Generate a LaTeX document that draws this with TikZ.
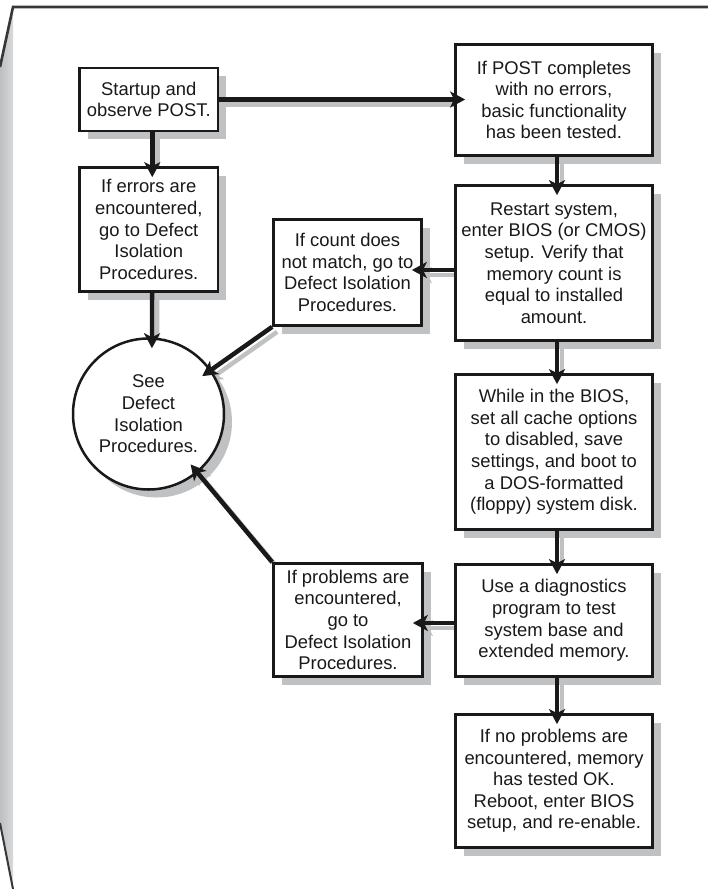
\documentclass[tikz,border=0pt]{standalone}
\usepackage{fontspec}
\setmainfont{Liberation Sans}
\usetikzlibrary{arrows.meta,shadows}

\definecolor{shadowgray}{RGB}{192,193,195}
\definecolor{ink}{RGB}{25,25,25}
\definecolor{framegray}{RGB}{55,55,55}
\definecolor{banddark}{RGB}{190,191,193}
\definecolor{bandlight}{RGB}{216,217,219}

\pgfdeclarelayer{bg}
\pgfsetlayers{bg,main}

\newcommand\myconn[1]{%
  \begin{pgfonlayer}{bg}\draw[connshadow] #1;\end{pgfonlayer}%
  \draw[conn] #1;}

\begin{document}
\begin{tikzpicture}[x=1pt,y=-1pt,
  box/.style={draw=ink, line width=2.7pt, fill=white, inner sep=0pt,
    align=center, text=ink, font=\fontsize{18.4}{21.6}\selectfont,
    general shadow={fill=shadowgray, shadow xshift=8pt, shadow yshift=-8pt}},
  circ/.style={box, circle, line width=2.5pt, minimum size=151pt},
  conn/.style={draw=ink, line width=4.5pt,
    -{Stealth[length=15pt,width=16pt,inset=4pt]}, shorten >=-11pt},
  connshadow/.style={conn, draw=shadowgray,
    transform canvas={shift={(5pt,-5pt)}}}
]
\useasboundingbox (0,0) rectangle (708,889);

% page edge
\shade[left color=banddark, right color=bandlight]
  (13,7) -- (13,889) -- (0,823) -- (0,67) -- cycle;
\draw[framegray, line width=2.6pt] (708,7) -- (13,7) -- (0,67);
\draw[framegray, line width=2pt] (0,823) -- (13,889);

% nodes
\node[box, minimum width=138.5pt, minimum height=63pt] (A) at (148.75,99.5)
  {Startup and\\observe POST.};
\node[box, minimum width=197pt, minimum height=111pt] (B) at (554,100)
  {If POST completes\\with no errors,\\basic functionality\\has been tested.};
\node[box, minimum width=138.5pt, minimum height=124pt] (C) at (148.75,229.5)
  {If errors are\\encountered,\\go to Defect\\Isolation\\Procedures.};
\node[circ] (S) at (148.5,414)
  {See\\Defect\\Isolation\\Procedures.};
\node[box, minimum width=148pt, minimum height=106pt] (D) at (347.5,272.5)
  {If count does\\not match, go to\\Defect Isolation\\Procedures.};
\node[box, minimum width=197pt, minimum height=155pt] (E) at (554,263)
  {Restart system,\\enter BIOS (or CMOS)\\setup. Verify that\\memory count is\\equal to installed\\amount.};
\node[box, minimum width=197pt, minimum height=155pt] (F) at (554,452)
  {While in the BIOS,\\set all cache options\\to disabled, save\\settings, and boot to\\a DOS-formatted\\(floppy) system disk.};
\node[box, minimum width=197pt, minimum height=112pt] (G) at (554,620.5)
  {Use a diagnostics\\program to test\\system base and\\extended memory.};
\node[box, minimum width=149pt, minimum height=113pt] (H) at (348,620)
  {If problems are\\encountered,\\go to\\Defect Isolation\\Procedures.};
\node[box, minimum width=197pt, minimum height=133pt] (I) at (554,781)
  {If no problems are\\encountered, memory\\has tested OK.\\Reboot, enter BIOS\\setup, and re-enable.};

% connectors
\myconn{(A.east) -- (A.east -| B.west)}
\myconn{([xshift=3.5pt]A.south) -- ([xshift=3.5pt]C.north)}
\myconn{([xshift=3.5pt]C.south) -- ([xshift=3.5pt]S.north)}
\myconn{([xshift=3pt]B.south) -- ([xshift=3pt]E.north)}
\myconn{([xshift=3pt]E.south) -- ([xshift=3pt]F.north)}
\myconn{([xshift=3pt]F.south) -- ([xshift=3pt]G.north)}
\myconn{([xshift=3pt]G.south) -- ([xshift=3pt]I.north)}
\myconn{([yshift=-7pt]E.west) -- ([yshift=-7pt]E.west -| D.east)}
\myconn{([yshift=-2.5pt]G.west) -- ([yshift=-2.5pt]G.west -| H.east)}
\myconn{(D.south west) -- (S)}
\myconn{(H.north west) -- (S)}
\end{tikzpicture}
\end{document}
